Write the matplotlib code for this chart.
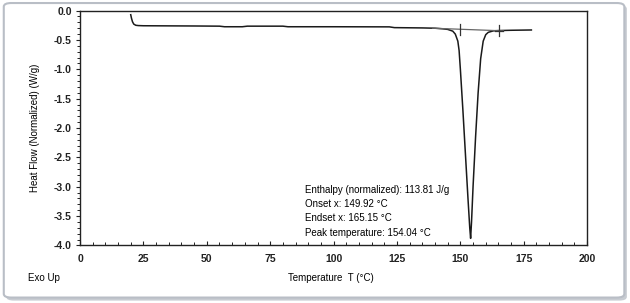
import matplotlib
matplotlib.use("Agg")
import matplotlib.pyplot as plt
from matplotlib.patches import FancyBboxPatch
from matplotlib.ticker import MultipleLocator

plt.rcParams['font.family'] = ['Liberation Sans', 'DejaVu Sans']
plt.rcParams['axes.unicode_minus'] = False

# DSC trace
temperature = [20.0, 20.3, 20.7, 21.2, 22.0, 23.0, 25.0, 35.0, 45.0, 55.0, 57.0, 64.0, 66.0,
               80.0, 82.0, 100.0, 122.0, 124.0, 135.0, 140.0, 143.0, 145.0, 147.0, 148.0,
               149.0, 149.5, 150.0, 151.0, 152.0, 153.0, 153.7, 154.04, 154.4, 155.0,
               156.0, 157.0, 158.0, 159.0, 160.0, 161.0, 163.0, 165.0, 170.0, 178.0]
heat_flow = [-0.07, -0.13, -0.19, -0.23, -0.25, -0.255, -0.258, -0.26, -0.262, -0.265, -0.275,
             -0.275, -0.265, -0.265, -0.275, -0.275, -0.277, -0.29, -0.295, -0.30, -0.31,
             -0.32, -0.35, -0.40, -0.52, -0.68, -1.0, -1.7, -2.45, -3.2, -3.7, -3.88,
             -3.6, -3.0, -2.15, -1.4, -0.82, -0.52, -0.41, -0.37, -0.345, -0.34, -0.335, -0.33]

# integration baseline and markers
baseline_t = [139.0, 167.0]
baseline_hf = [-0.30, -0.345]
onset = (149.92, -0.32)
endset = (165.15, -0.34)

results = [
    "Enthalpy (normalized): 113.81 J/g",
    "Onset x: 149.92 \u00b0C",
    "Endset x: 165.15 \u00b0C",
    "Peak temperature: 154.04 \u00b0C",
]

fig = plt.figure(figsize=(6.3, 3.03), dpi=100)

# rounded frame with soft shadow
shadow = FancyBboxPatch((0.010, 0.008), 0.985, 0.975, boxstyle="round,pad=0,rounding_size=0.012",
                        transform=fig.transFigure, facecolor="#c8ccd2", edgecolor="none", zorder=0)
frame = FancyBboxPatch((0.006, 0.018), 0.985, 0.972, boxstyle="round,pad=0,rounding_size=0.012",
                       transform=fig.transFigure, facecolor="white", edgecolor="#b9bec6",
                       linewidth=1.5, zorder=1)
fig.patches.extend([shadow, frame])

ax = fig.add_axes([0.127, 0.190, 0.805, 0.775])
ax.set_facecolor("none")
ax.set_zorder(2)

ax.plot(temperature, heat_flow, color="#1a1a1a", linewidth=1.1)
ax.plot(baseline_t, baseline_hf, color="#666666", linewidth=0.9)
ax.plot([onset[0], onset[0]], [onset[1] - 0.1, onset[1] + 0.1], color="#333333", linewidth=0.9)
ax.plot([endset[0], endset[0]], [endset[1] - 0.1, endset[1] + 0.1], color="#333333", linewidth=0.9)
ax.plot([endset[0] - 1.5, endset[0] + 1.5], [endset[1], endset[1]], color="#333333", linewidth=0.9)

ax.set_xlim(0, 200)
ax.set_ylim(-4.0, 0.0)
ax.xaxis.set_major_locator(MultipleLocator(25))
ax.xaxis.set_minor_locator(MultipleLocator(5))
ax.yaxis.set_major_locator(MultipleLocator(0.5))
ax.yaxis.set_minor_locator(MultipleLocator(0.1))
ax.yaxis.set_major_formatter(plt.FormatStrFormatter("%.1f"))

for s in ax.spines.values():
    s.set_linewidth(1.0)
    s.set_color("#222222")
ax.tick_params(axis="both", which="major", length=3, width=0.8, labelsize=7.5, colors="#222222")
ax.tick_params(axis="both", which="minor", length=2, width=0.6)
ax.tick_params(axis="x", which="both", direction="in", pad=6)
ax.tick_params(axis="y", which="both", direction="out", pad=3)
for lbl in ax.get_xticklabels() + ax.get_yticklabels():
    lbl.set_fontweight("bold")

ax.set_ylabel("Heat Flow (Normalized) (W/g)", fontsize=7, labelpad=10)
fig.text(0.525, 0.083, "Temperature  T (\u00b0C)", fontsize=7, ha="center", va="center")
fig.text(0.045, 0.083, "Exo Up", fontsize=7, ha="left", va="center")

for i, line in enumerate(results):
    ax.text(0.444, 0.235 - i * 0.06, line, transform=ax.transAxes, fontsize=7,
            ha="left", va="center")

fig.savefig("out.png", dpi=100)
